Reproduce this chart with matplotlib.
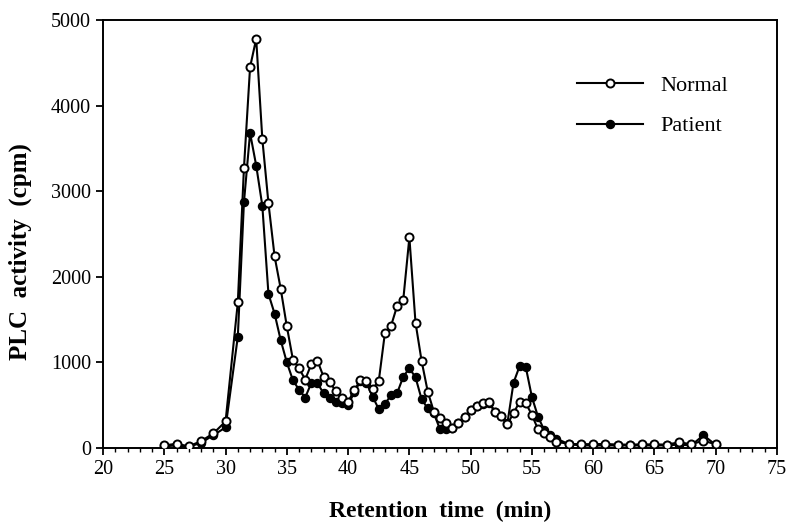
import matplotlib
matplotlib.use("Agg")
import matplotlib.pyplot as plt
from matplotlib.ticker import MultipleLocator

# Retention time (min)
time_early = [25, 26, 27, 28, 29, 30]
time_mid = [31 + 0.5 * i for i in range(53)]  # 31.0 ... 57.0 fraction spacing
time_late = [58, 59, 60, 61, 62, 63, 64, 65, 66, 67, 68, 69, 70]
times = time_early + time_mid + time_late

normal = [30, 50, 20, 80, 170, 310,
          1700, 3270, 4450, 4780, 3610, 2860, 2240, 1860, 1420, 1030,
          930, 800, 980, 1020, 830, 770, 665, 590, 540, 675,
          790, 780, 690, 780, 1340, 1425, 1660, 1730, 2460, 1465,
          1015, 658, 424, 347, 296, 237, 296, 366, 444, 491,
          522, 534, 424, 374, 280, 408, 541, 525, 386, 218,
          171, 132, 74,
          47, 45, 45, 47, 40, 40, 42, 42, 40, 66, 45, 85, 43]

patient = [20, 30, 15, 60, 150, 240,
           1300, 2870, 3680, 3300, 2830, 1800, 1570, 1260, 1000, 790,
           680, 590, 760, 755, 640, 590, 541, 522, 502, 650,
           780, 760, 600, 455, 515, 615, 640, 833, 931, 826,
           569, 463, 405, 218, 218, 230, 290, 360, 440, 485,
           515, 525, 420, 370, 290, 763, 958, 945, 595, 365,
           210, 152, 110,
           45, 30, 30, 30, 30, 30, 30, 30, 30, 40, 30, 150, 35]

x_ticks = [20, 25, 30, 35, 40, 45, 50, 55, 60, 65, 70, 75]
y_ticks = [0, 1000, 2000, 3000, 4000, 5000]

serif = ["Liberation Serif", "DejaVu Serif"]

fig = plt.figure(figsize=(7.87, 5.31), dpi=100)
ax = fig.add_axes([0.1309, 0.1563, 0.8564, 0.8060])

ax.plot(times, patient, "-o", color="black", lw=1.5, ms=5.8,
        mfc="black", mec="black", mew=1.0, label="Patient", zorder=2)
ax.plot(times, normal, "-o", color="black", lw=1.5, ms=5.8,
        mfc="white", mec="black", mew=1.4, label="Normal", zorder=3)

ax.set_xlim(20, 75)
ax.set_ylim(0, 5000)
ax.set_xticks(x_ticks)
ax.set_yticks(y_ticks)
ax.xaxis.set_minor_locator(MultipleLocator(1))
ax.tick_params(axis="both", which="major", direction="out", length=5, width=1.3)
ax.tick_params(axis="x", which="minor", direction="out", length=3, width=1.0)
for sp in ax.spines.values():
    sp.set_linewidth(1.4)

for lab in ax.get_xticklabels():
    lab.set_fontfamily(serif)
    lab.set_fontsize(14.5)
for lab in ax.get_yticklabels():
    lab.set_fontfamily(serif)
    lab.set_fontsize(14.5)

ax.set_xlabel("Retention  time  (min)", fontfamily=serif, fontweight="bold",
              fontsize=17, labelpad=16)
ax.set_ylabel("PLC  activity  (cpm)", fontfamily=serif, fontweight="bold",
              fontsize=18, labelpad=8)
ax.yaxis.set_label_coords(-0.105, 0.46)

handles, labels = ax.get_legend_handles_labels()
leg = ax.legend(handles[::-1], labels[::-1], loc="upper left",
                bbox_to_anchor=(0.703, 0.871), frameon=False,
                borderpad=0, borderaxespad=0,
                handlelength=3.0, handletextpad=0.75, labelspacing=0.9,
                prop={"family": serif, "size": 16})

fig.savefig("out.png", dpi=100)
